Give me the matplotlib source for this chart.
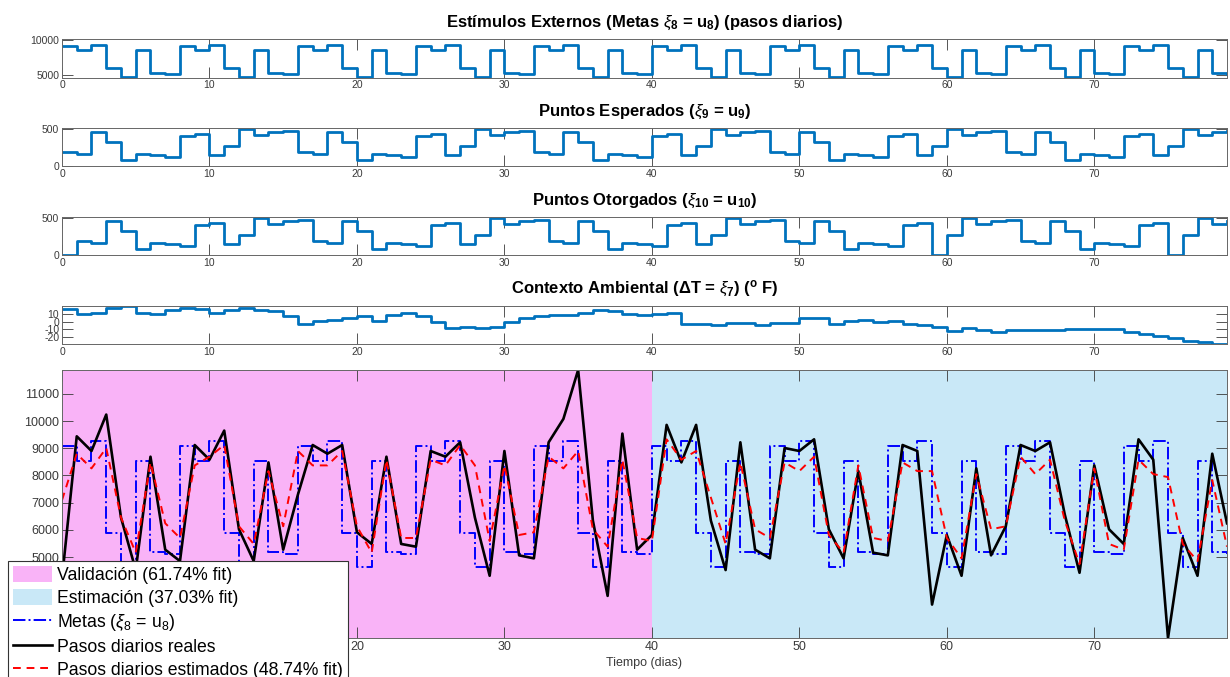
import matplotlib
matplotlib.use("Agg")
import matplotlib.pyplot as plt
from matplotlib.patches import Patch
from matplotlib.lines import Line2D

plt.rcParams['font.family'] = ['Liberation Sans', 'DejaVu Sans']
plt.rcParams['mathtext.fontset'] = 'custom'
plt.rcParams['mathtext.rm'] = 'Liberation Sans'
plt.rcParams['mathtext.it'] = 'Liberation Sans:italic'
plt.rcParams['mathtext.bf'] = 'Liberation Sans:bold'
plt.rcParams['axes.unicode_minus'] = False

# dias 0..79
dias = list(range(80))

# Metas (xi_8 = u_8), pasos diarios
metas = [9100, 8550, 9250, 5900, 4650, 8550, 5200, 5100,
         9100, 8550, 9250, 5900, 4650, 8550, 5200, 5100,
         9100, 8550, 9250, 5900, 4650, 8550, 5200, 5100,
         9100, 8550, 9250, 5900, 4650, 8550, 5200, 5100,
         9100, 8550, 9250, 5900, 4650, 8550, 5200, 5100,
         9100, 8550, 9250, 5900, 4650, 8550, 5200, 5100,
         9100, 8550, 9250, 5900, 4650, 8550, 5200, 5100,
         9100, 8550, 9250, 5900, 4650, 8550, 5200, 5100,
         9100, 8550, 9250, 5900, 4650, 8550, 5200, 5100,
         9100, 8550, 9250, 5900, 4650, 8550, 5200, 5100]

# Puntos esperados (xi_9 = u_9)
esperados = [190, 165, 455, 330, 85, 165, 143, 120, 400, 433, 143, 277, 505, 424, 455, 478,
             190, 165, 455, 330, 85, 165, 143, 120, 400, 433, 143, 277, 505, 424, 455, 478,
             190, 165, 455, 330, 85, 165, 143, 120, 400, 433, 143, 277, 505, 424, 455, 478,
             190, 165, 455, 330, 85, 165, 143, 120, 400, 433, 143, 277, 505, 424, 455, 478,
             190, 165, 455, 330, 85, 165, 143, 120, 400, 433, 143, 277, 505, 424, 455, 478]

# Puntos otorgados (xi_10 = u_10)
otorgados = [0, 190, 165, 455, 330, 85, 165, 143, 120, 400, 433, 143, 277, 505, 424, 455,
             478, 190, 165, 455, 330, 85, 165, 143, 120, 400, 433, 143, 277, 505, 424, 455,
             478, 190, 165, 455, 330, 85, 165, 143, 120, 400, 433, 143, 277, 505, 424, 455,
             478, 190, 165, 455, 330, 85, 165, 143, 120, 400, 433, 0, 277, 505, 424, 455,
             478, 190, 165, 455, 330, 85, 165, 143, 120, 400, 433, 0, 277, 505, 424, 455]

# Contexto ambiental (Delta T = xi_7)
delta_t = [17, 10.7, 12, 18, 20, 11.6, 10.7, 15, 18, 16.3,
           11.6, 15.9, 17.6, 15.9, 14.6, 7.3, -3.4, 0.9, 2.6, 5.2,
           7.7, 0.9, 9.4, 11.6, 7.3, 0, -7.7, -7.3, -8.2, -6.4,
           0, 5.2, 7.3, 8.6, 8.6, 12, 15.9, 14.2, 10.7, 8.6,
           10.7, 12, -3.4, -3.4, -3.9, -2, -1, -4.3, -1.7, -1.7,
           4.3, 4.3, -3.4, 1.3, 2.1, 0, 0.9, -2.6, -3.9, -7.3,
           -11.6, -8.2, -10.3, -12.9, -10.3, -10.3, -10.3, -10.3, -9.4, -9.4,
           -9.4, -9.4, -12.9, -15.5, -18.9, -21.5, -24.5, -27, -29, -29]

# Pasos diarios reales
reales = [4200, 9440, 8900, 10240, 6450, 4520, 8690, 5270, 4850, 9120,
          8580, 9650, 6020, 4850, 8480, 5270, 7300, 9120, 8800, 9120,
          5910, 5480, 8690, 5480, 5380, 8900, 8690, 9220, 6450, 4310,
          8900, 5060, 4950, 9220, 10080, 11880, 6340, 3570, 9540, 5270,
          5810, 9860, 8480, 9860, 6340, 4520, 9220, 5270, 4950, 9010,
          8900, 9330, 6020, 4950, 8160, 5160, 5060, 9120, 8900, 3250,
          5810, 4310, 8260, 5060, 6130, 9120, 8900, 9220, 6560, 4420,
          8370, 6020, 5480, 9330, 8580, 2020, 5700, 4310, 8800, 6240]

# Pasos diarios estimados
estimados = [7090, 8800, 8260, 9010, 6450, 5160, 8480, 6240, 5700, 8370,
             8690, 9120, 6130, 5480, 8160, 6130, 8900, 8370, 8370, 8900,
             6130, 5160, 8580, 5700, 5700, 8580, 8370, 9120, 8370, 5590,
             8370, 5810, 5910, 8690, 8260, 8900, 6020, 5380, 8580, 5700,
             5590, 9330, 8580, 8900, 7190, 5480, 8480, 6020, 5700, 8480,
             8160, 8690, 5810, 5160, 8370, 5700, 5590, 8480, 8160, 8160,
             5700, 4950, 8050, 6020, 6130, 8690, 8050, 8580, 6340, 4740,
             8260, 5480, 5270, 8580, 8050, 7940, 5480, 4850, 7830, 5380]

fit_val = 61.74
fit_est = 37.03
fit_model = 48.74

azul = '#0072BD'
gris = '#3a3a3a'
rosa = '#F9B3F7'
celeste = '#C9E8F7'

fig = plt.figure(figsize=(12.3, 6.77), dpi=100)


def estilo(ax, fs=7.5):
    ax.set_xlim(0, 79)
    ax.tick_params(direction='in', length=8, width=0.6, top=True, right=True,
                   labelsize=fs, colors=gris, pad=2)
    for s in ax.spines.values():
        s.set_color('#666666')
        s.set_linewidth(0.7)
    ax.set_xticks(range(0, 80, 10))


W, H = 1230.0, 677.0
izq = 62 / W
ancho = 1165 / W
paneles = [(39, 77.5), (128, 166), (217, 255), (306, 344)]
ejes = [fig.add_axes([izq, 1 - b / H, ancho, (b - t) / H]) for t, b in paneles]
tit = dict(fontsize=12, fontweight='bold', pad=9)

ax1, ax2, ax3, ax4 = ejes
ax1.plot(dias, metas, drawstyle='steps-post', color=azul, lw=2)
ax1.set_ylim(4600, 10150)
ax1.set_yticks([5000, 10000])
ax1.set_title(r'Estímulos Externos (Metas $\xi_\mathbf{8}$ = u$_\mathbf{8}$) (pasos diarios)', **tit)

ax2.plot(dias, esperados, drawstyle='steps-post', color=azul, lw=2)
ax2.set_ylim(0, 515)
ax2.set_yticks([0, 500])
ax2.set_title(r'Puntos Esperados ($\xi_\mathbf{9}$ = u$_\mathbf{9}$)', **tit)

ax3.plot(dias, otorgados, drawstyle='steps-post', color=azul, lw=2)
ax3.set_ylim(0, 515)
ax3.set_yticks([0, 500])
ax3.set_title(r'Puntos Otorgados ($\xi_\mathbf{10}$ = u$_\mathbf{10}$)', **tit)

ax4.plot(dias, delta_t, drawstyle='steps-post', color=azul, lw=2)
ax4.set_ylim(-29, 20.5)
ax4.set_yticks([-20, -10, 0, 10])
ax4.set_title(r'Contexto Ambiental ($\mathbf{\Delta}$T = $\xi_\mathbf{7}$) ($^\mathbf{o}$ F)', **tit)

for ax in ejes:
    estilo(ax)

# panel principal
ax5 = fig.add_axes([izq, 1 - 638 / H, ancho, (638 - 370) / H])
ax5.axvspan(0, 40, color=rosa, lw=0)
ax5.axvspan(40, 79, color=celeste, lw=0)
ax5.plot(dias, metas, drawstyle='steps-post', color='#0000FF', lw=1.4, ls='-.')
ax5.plot(dias, reales, color='black', lw=1.9)
ax5.plot(dias, estimados, color='#FF0000', lw=1.4, ls=(0, (4, 3)))
ax5.set_ylim(2020, 11880)
ax5.set_yticks(range(5000, 11001, 1000))
estilo(ax5, fs=9)
ax5.set_xlabel('Tiempo (dias)', fontsize=9, color=gris, labelpad=3)

handles = [Patch(facecolor=rosa, edgecolor='none'),
           Patch(facecolor=celeste, edgecolor='none'),
           Line2D([], [], color='#0000FF', lw=1.4, ls='-.'),
           Line2D([], [], color='black', lw=1.9),
           Line2D([], [], color='#FF0000', lw=1.4, ls=(0, (4, 3)))]
labels = ['Validación (%.2f%% fit)' % fit_val,
          'Estimación (%.2f%% fit)' % fit_est,
          r'Metas ($\xi_8$ = u$_8$)',
          'Pasos diarios reales',
          'Pasos diarios estimados (%.2f%% fit)' % fit_model]
leg = fig.legend(handles, labels, loc='upper left', bbox_to_anchor=(8 / W, 1 - 561 / H),
                 fontsize=12.7, frameon=True, fancybox=False, framealpha=1,
                 edgecolor='#333333', handlelength=2.2, handleheight=1.0,
                 handletextpad=0.25, labelspacing=0.28,
                 borderpad=0.3, borderaxespad=0)
leg.get_frame().set_linewidth(0.8)

fig.savefig('out.png', dpi=100)
